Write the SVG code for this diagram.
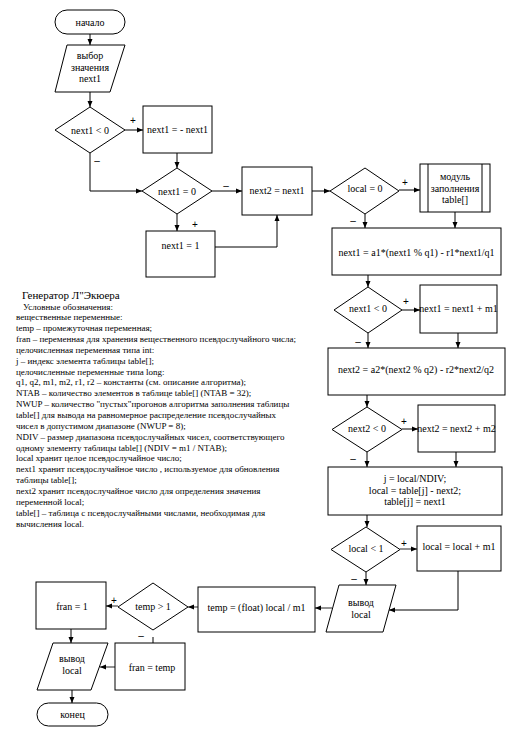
<svg xmlns="http://www.w3.org/2000/svg" width="513" height="731" viewBox="0 0 513 731">
<defs>
<marker id="ah" viewBox="0 0 6 6" refX="6" refY="3" markerWidth="6" markerHeight="6" markerUnits="userSpaceOnUse" orient="auto">
<path d="M0,0.5 L6,3 L0,5.5 Z" fill="#000"/>
</marker>
</defs>
<style>
.s{fill:#fff;stroke:#000;stroke-width:1}
.t{font-family:"Liberation Serif","Times New Roman",serif;font-size:10px;fill:#000;text-anchor:middle}
.d{font-family:"Liberation Serif","Times New Roman",serif;font-size:9px;fill:#000}
.h{font-family:"Liberation Serif","Times New Roman",serif;font-size:11px;fill:#000}
.c{fill:none;stroke:#000;stroke-width:1}
.g{fill:none;stroke:#777;stroke-width:1.6}
.a{marker-end:url(#ah)}
.l{font-family:"Liberation Sans",Arial,sans-serif;font-size:10px;fill:#000;text-anchor:middle}
</style>
<rect width="513" height="731" fill="#fff"/>

<g id="connectors">
<path class="c a" d="M90,34 V45"/>
<path class="c a" d="M90,92 V107"/>
<path class="c a" d="M125,130 H143"/>
<path class="c a" d="M177,153 V168"/>
<path class="c a" d="M90,153 V191 H142"/>
<path class="c a" d="M212,191 H242"/>
<path class="c a" d="M177,214 V231"/>
<path class="c a" d="M215,247 H277 V215"/>
<path class="c a" d="M312,191 H330"/>
<path class="c a" d="M399,190 H420"/>
<path class="c a" d="M365,214 V228"/>
<path class="c a" d="M455,212 V228"/>
<path class="c a" d="M368,275 V287"/>
<path class="c a" d="M402,310 H420"/>
<path class="c a" d="M368,333 V348"/>
<path class="c a" d="M458,333 V348"/>
<path class="c a" d="M367,395 V407"/>
<path class="c a" d="M402,429 H418"/>
<path class="c a" d="M367,452 V467"/>
<path class="c a" d="M456,452 V467"/>
<path class="c a" d="M367,515 V527"/>
<path class="g a" d="M400,549 H417"/>
<path class="c a" d="M366,572 V585"/>
<path class="c a" d="M458,571 V610 H389"/>
<path class="g a" d="M332,608 H315"/>
<path class="g a" d="M198,607 H188"/>
<path class="g a" d="M118,606 H106"/>
<path class="c" d="M153,637 V643"/>
<path class="c a" d="M71,629 V643"/>
<path class="g a" d="M115,667 H100"/>
<path class="c a" d="M72,690 V703"/>
<text class="l" x="133" y="124">+</text>
<text class="l" x="97" y="164">–</text>
<text class="l" x="226" y="189">–</text>
<text class="l" x="195" y="228">+</text>
<text class="l" x="405" y="186">+</text>
<text class="l" x="353" y="224">–</text>
<text class="l" x="406" y="305">+</text>
<text class="l" x="358" y="345">–</text>
<text class="l" x="404" y="425">+</text>
<text class="l" x="353" y="462">–</text>
<text class="l" x="404" y="547">+</text>
<text class="l" x="354" y="582">–</text>
<text class="l" x="114" y="604">+</text>
<text class="l" x="141" y="639">–</text>
</g>

<g id="start"><rect class="s" x="55" y="10" width="70" height="24" rx="12"/><text class="t" x="90" y="25.5">начало</text></g>
<g id="input1"><polygon class="s" points="67,45 125,45 110,92 55,92"/><text class="t" x="90" y="58.5">выбор</text><text class="t" x="90" y="70.5">значения</text><text class="t" x="90" y="81.5">next1</text></g>
<g id="d1"><polygon class="s" points="90,107 125,130 90,153 55,130"/><text class="t" x="90" y="133.5">next1 &lt; 0</text></g>
<g id="b1"><rect class="s" x="143" y="106" width="69" height="47"/><text class="t" x="177.5" y="133">next1 = - next1</text></g>
<g id="d2"><polygon class="s" points="177,168 212,191 177,214 142,191"/><text class="t" x="177" y="194.5">next1 = 0</text></g>
<g id="b2"><rect class="s" x="242" y="167" width="70" height="48"/><text class="t" x="277" y="193.5">next2 = next1</text></g>
<g id="b3"><rect class="s" x="146" y="231" width="69" height="46"/><text class="t" x="180.5" y="248.5">next1 = 1</text></g>
<g id="d3"><polygon class="s" points="365,168 399,191 365,214 330,191"/><text class="t" x="365" y="191.5">local = 0</text></g>
<g id="sub"><rect class="s" x="420" y="164" width="70" height="48"/><path class="c" d="M428,164 V212 M482,164 V212"/><text class="t" x="455" y="179.5">модуль</text><text class="t" x="455" y="191.5">заполнения</text><text class="t" x="455" y="202.5">table[]</text></g>
<g id="b4"><rect class="s" x="332" y="228" width="169" height="47"/><text class="t" x="416.5" y="255.5">next1 = a1*(next1 % q1) - r1*next1/q1</text></g>
<g id="d4"><polygon class="s" points="368,287 402,310 368,333 334,310"/><text class="t" x="368" y="311.5">next1 &lt; 0</text></g>
<g id="b5"><rect class="s" x="420" y="285" width="77" height="48"/><text class="t" x="458.5" y="311.5">next1 = next1 + m1</text></g>
<g id="b6"><rect class="s" x="328" y="348" width="177" height="47"/><text class="t" x="416" y="372.5">next2 = a2*(next2 % q2) - r2*next2/q2</text></g>
<g id="d5"><polygon class="s" points="367,407 402,429.5 367,452 332,429.5"/><text class="t" x="367" y="431.5">next2 &lt; 0</text></g>
<g id="b7"><rect class="s" x="418" y="405" width="77" height="47"/><text class="t" x="456.5" y="431.5">next2 = next2 + m2</text></g>
<g id="b8"><rect class="s" x="328" y="467" width="174" height="48"/><text class="t" x="415" y="481.5">j = local/NDIV;</text><text class="t" x="415" y="493.5">local = table[j] - next2;</text><text class="t" x="415" y="504.5">table[j] = next1</text></g>
<g id="d6"><polygon class="s" points="366,527 400,549.5 366,572 331,549.5"/><text class="t" x="366" y="552">local &lt; 1</text></g>
<g id="b9"><rect class="s" x="417" y="526" width="84" height="45"/><text class="t" x="459" y="549.5">local = local + m1</text></g>
<g id="out1"><polygon class="s" points="339,585 396,585 383,632 326,632"/><text class="t" x="361" y="606">вывод</text><text class="t" x="361" y="617.5">local</text></g>
<g id="b10"><rect class="s" x="198" y="587" width="117" height="45"/><text class="t" x="256.5" y="611">temp = (float) local / m1</text></g>
<g id="d7"><polygon class="s" points="153,583 188,607 153,630 118,607"/><text class="t" x="153" y="610">temp &gt; 1</text></g>
<g id="b11"><rect class="s" x="36" y="582" width="70" height="47"/><text class="t" x="72" y="609.5">fran = 1</text></g>
<g id="b12"><rect class="s" x="115" y="643" width="70" height="47"/><text class="t" x="152" y="671">fran = temp</text></g>
<g id="out2"><polygon class="s" points="53,643 108,643 91,690 37,690"/><text class="t" x="72" y="662">вывод</text><text class="t" x="72" y="673.5">local</text></g>
<g id="end"><rect class="s" x="37" y="703" width="71" height="23" rx="11.5"/><text class="t" x="72.5" y="718">конец</text></g>

<g id="legend">
<text class="h" x="22" y="299">Генератор Л"Экюера</text>
<text class="d" x="23" y="309.5">Условные обозначения:</text>
<text class="d" x="16" y="320.3">вещественные переменные:</text>
<text class="d" x="16" y="331.2">temp  – промежуточная переменная;</text>
<text class="d" x="16" y="342">fran  – переменная для хранения вещественного псевдослучайного числа;</text>
<text class="d" x="16" y="352.9">целочисленная переменная типа int:</text>
<text class="d" x="16" y="363.7">j  – индекс элемента таблицы table[];</text>
<text class="d" x="16" y="374.6">целочисленные переменные типа long:</text>
<text class="d" x="16" y="385.4">q1, q2, m1, m2, r1, r2  – константы (см. описание алгоритма);</text>
<text class="d" x="16" y="396.3">NTAB  – количество элементов в таблице table[] (NTAB = 32);</text>
<text class="d" x="16" y="407.1">NWUP – количество  "пустых"прогонов алгоритма заполнения таблицы</text>
<text class="d" x="16" y="418">table[] для вывода на равномерное распределение псевдослучайных</text>
<text class="d" x="16" y="428.8">чисел в допустимом диапазоне (NWUP = 8);</text>
<text class="d" x="16" y="439.7">NDIV – размер диапазона псевдослучайных чисел, соответствующего</text>
<text class="d" x="16" y="450.5">одному элементу таблицы table[] (NDIV = m1 / NTAB);</text>
<text class="d" x="16" y="461.4">local  хранит целое псевдослучайное число;</text>
<text class="d" x="16" y="472.2">next1 хранит псевдослучайное число , используемое для обновления</text>
<text class="d" x="16" y="483.1">таблицы table[];</text>
<text class="d" x="16" y="493.9">next2  хранит  псевдослучайное число для определения значения</text>
<text class="d" x="16" y="504.8">переменной local;</text>
<text class="d" x="16" y="515.6">table[] – таблица с псевдослучайными числами, необходимая для</text>
<text class="d" x="16" y="526.5">вычисления local.</text>
</g>
</svg>
